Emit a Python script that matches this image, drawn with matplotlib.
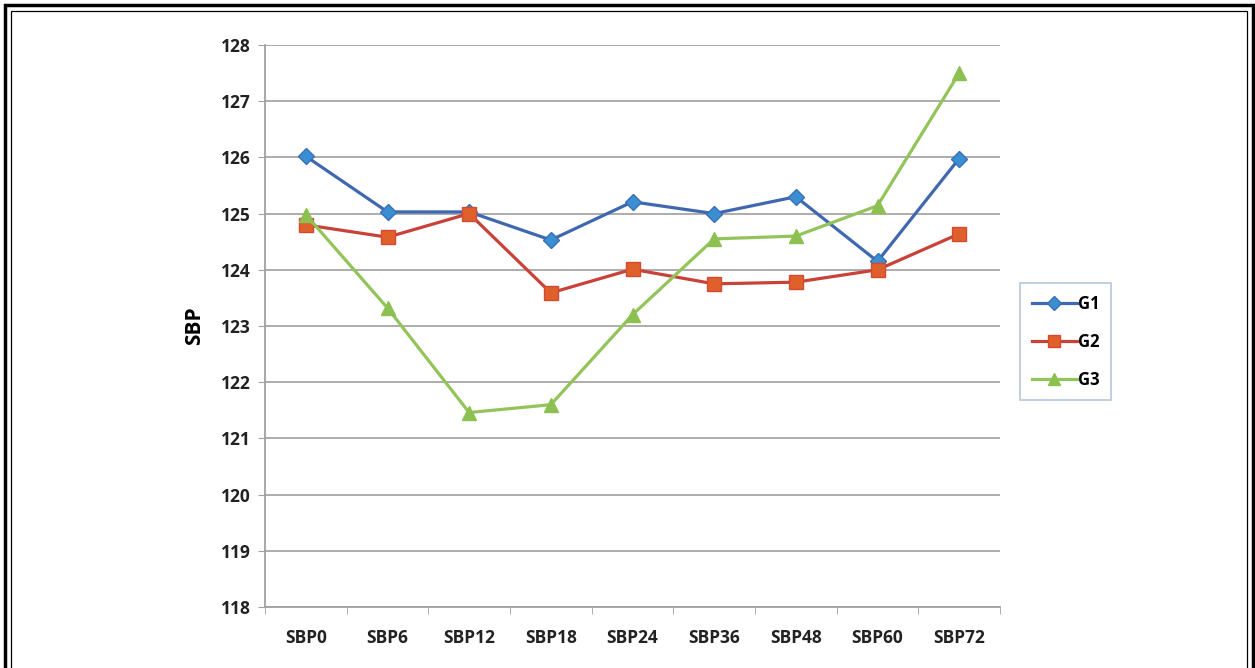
import matplotlib.pyplot as plt
from matplotlib.patches import Rectangle
from matplotlib.ticker import FixedLocator

# systolic blood pressure readings per group
timepoints = ['SBP0', 'SBP6', 'SBP12', 'SBP18', 'SBP24', 'SBP36', 'SBP48', 'SBP60', 'SBP72']
g1 = [126.02, 125.03, 125.03, 124.53, 125.21, 125.0, 125.3, 124.15, 125.98]
g2 = [124.8, 124.58, 125.0, 123.59, 124.01, 123.75, 123.78, 124.0, 124.64]
g3 = [124.98, 123.32, 121.46, 121.6, 123.2, 124.55, 124.6, 125.14, 127.5]
yticks = [118, 119, 120, 121, 122, 123, 124, 125, 126, 127, 128]

plt.rcParams['font.family'] = ['Open Sans', 'DejaVu Sans']

fig = plt.figure(figsize=(12.55, 6.68), dpi=100)
ax = fig.add_axes([265 / 1255, 1 - 607 / 668, 735 / 1255, 562 / 668])

x = list(range(len(timepoints)))
ax.plot(x, g1, color='#3f68b0', lw=2.3, marker='D', ms=8.5,
        mfc='#3a8fd2', mec='#3a6fb8', mew=1, label='G1', zorder=3)
ax.plot(x, g2, color='#c8423a', lw=2.3, marker='s', ms=10.5,
        mfc='#e0602c', mec='#d24a30', mew=1, label='G2', zorder=3)
ax.plot(x, g3, color='#93c45a', lw=2.3, marker='^', ms=10,
        mfc='#8cc050', mec='#8cc050', mew=1, label='G3', zorder=3)

ax.set_xlim(-0.5, len(timepoints) - 0.5)
ax.set_ylim(118, 128)
ax.set_yticks(yticks)
ax.set_xticks(x)
ax.set_xticklabels(timepoints)
ax.xaxis.set_minor_locator(FixedLocator([i - 0.5 for i in range(len(timepoints) + 1)]))

ax.grid(axis='y', color='#a6a6a6', lw=1.3)
ax.set_axisbelow(True)
for s in ['top', 'right']:
    ax.spines[s].set_visible(False)
for s in ['left', 'bottom']:
    ax.spines[s].set_color('#a0a0a0')
    ax.spines[s].set_linewidth(1.3)

ax.tick_params(axis='y', length=5, color='#a0a0a0', pad=5, labelsize=12.5)
ax.tick_params(axis='x', which='major', length=0, pad=16, labelsize=12.5)
ax.tick_params(axis='x', which='minor', length=5, color='#a0a0a0')
for lbl in ax.get_xticklabels() + ax.get_yticklabels():
    lbl.set_fontweight('bold')
    lbl.set_color('#222222')

ax.set_ylabel('SBP', fontsize=15, fontweight='bold', labelpad=12)

leg = ax.legend(loc='center left', bbox_to_anchor=(1.027, 0.472), frameon=True,
                fancybox=False, edgecolor='#a9bfd6', fontsize=12,
                handlelength=2.7, handletextpad=0.1, labelspacing=1.2,
                borderpad=0.7, borderaxespad=0, markerscale=0.8)
for t in leg.get_texts():
    t.set_fontweight('bold')
leg.get_frame().set_linewidth(1.3)

# double frame round the figure
fig.patches.append(Rectangle((5 / 1255, -0.05), 1248 / 1255, 1 - 5 / 668 + 0.05,
                             transform=fig.transFigure, fill=False,
                             edgecolor='black', lw=2.5))
fig.patches.append(Rectangle((11 / 1255, -0.05), 1236 / 1255, 1 - 11 / 668 + 0.05,
                             transform=fig.transFigure, fill=False,
                             edgecolor='black', lw=0.9))

fig.savefig('out.png', dpi=100)
